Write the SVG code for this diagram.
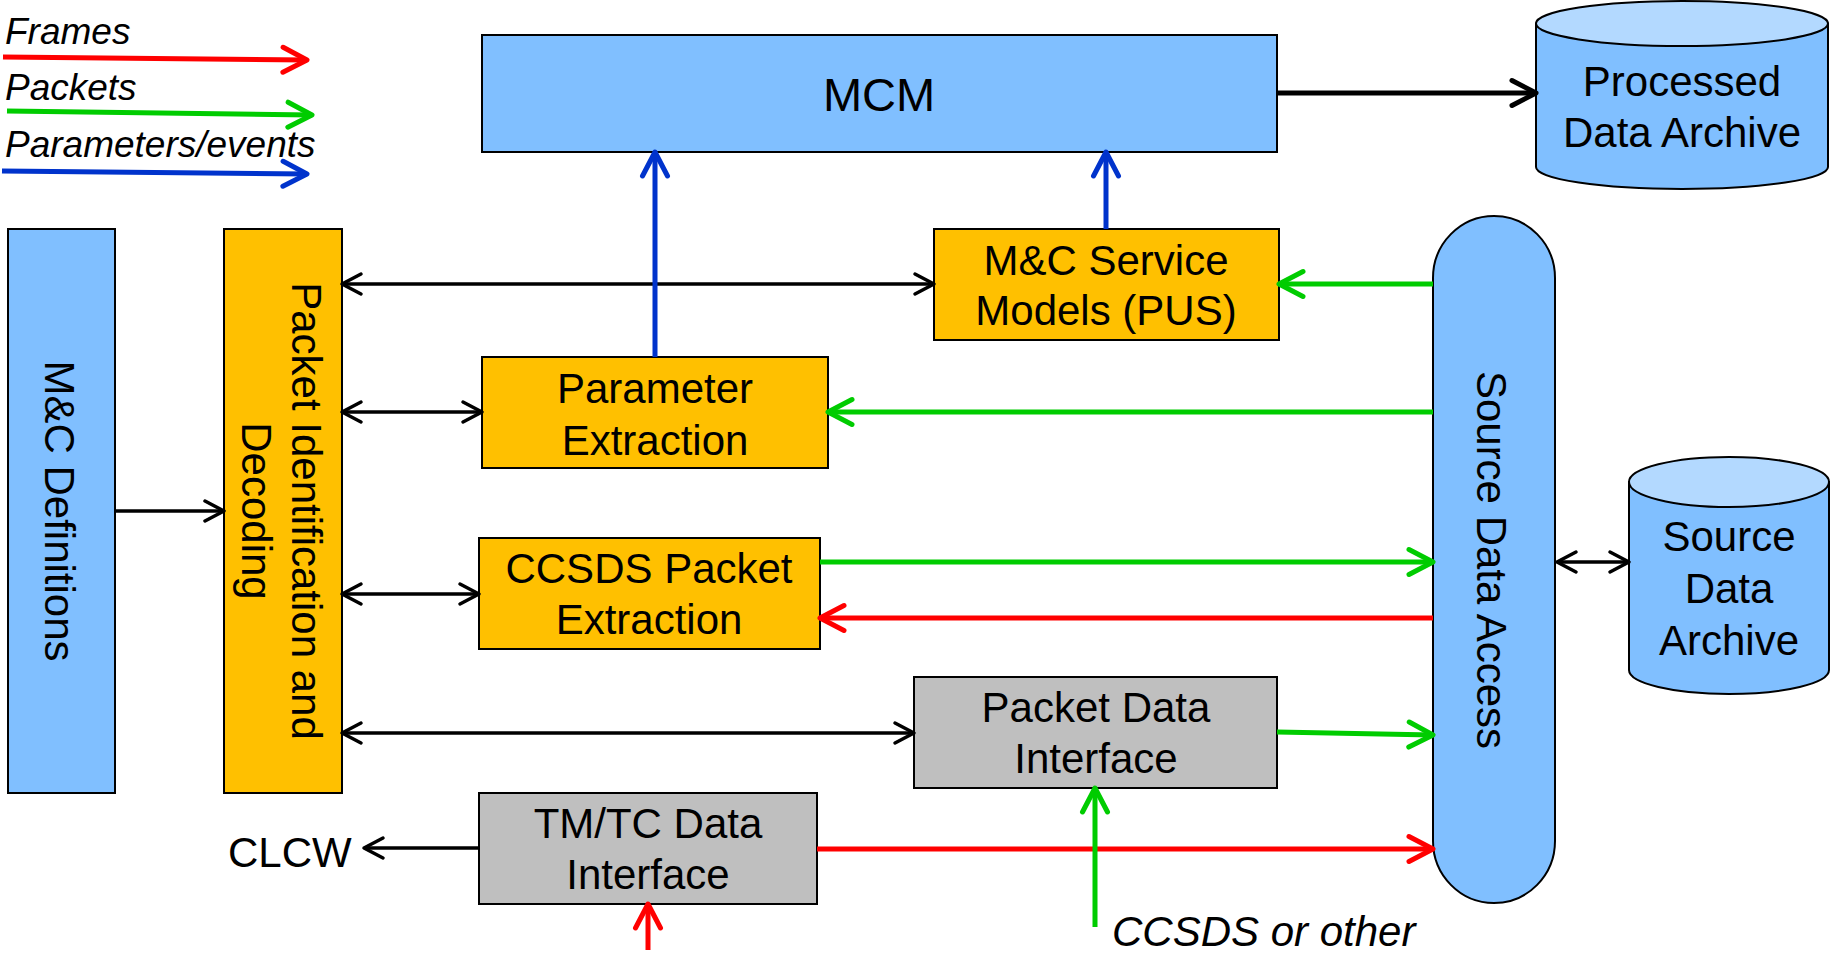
<svg xmlns="http://www.w3.org/2000/svg" width="1833" height="954" viewBox="0 0 1833 954">
  <style>
    .lbl { font-family: "Liberation Sans", Arial, sans-serif; font-size: 42px; fill: #000; }
    .it { font-style: italic; }
    .leg { font-size: 37px; }
    .mid { text-anchor: middle; }
    .box { stroke: #000; stroke-width: 2; }
    .blue { fill: #80BFFF; }
    .gold { fill: #FFC000; }
    .grey { fill: #BFBFBF; }
    .top { fill: #B3D9FF; }
    .ln { fill: none; }
    .k { stroke: #000; stroke-width: 3.5; }
    .kb { stroke: #000; stroke-width: 5; }
    .r { stroke: #FF0000; stroke-width: 5; }
    .g { stroke: #00CC00; stroke-width: 5; }
    .b { stroke: #0033CC; stroke-width: 5; }
  </style>
  <defs>
    <marker id="ah-k" markerUnits="userSpaceOnUse" viewBox="-30 -20 40 40" markerWidth="40" markerHeight="40" refX="0" refY="0" orient="auto-start-reverse">
      <path d="M-19,-10 L0,0 L-19,10" fill="none" stroke="#000" stroke-width="3.5" stroke-linecap="round" stroke-linejoin="round"/>
    </marker>
    <marker id="ah-kb" markerUnits="userSpaceOnUse" viewBox="-30 -20 40 40" markerWidth="40" markerHeight="40" refX="0" refY="0" orient="auto-start-reverse">
      <path d="M-24,-12.5 L0,0 L-24,12.5" fill="none" stroke="#000" stroke-width="5" stroke-linecap="round" stroke-linejoin="round"/>
    </marker>
    <marker id="ah-r" markerUnits="userSpaceOnUse" viewBox="-30 -20 40 40" markerWidth="40" markerHeight="40" refX="0" refY="0" orient="auto-start-reverse">
      <path d="M-24,-12.5 L0,0 L-24,12.5" fill="none" stroke="#FF0000" stroke-width="5" stroke-linecap="round" stroke-linejoin="round"/>
    </marker>
    <marker id="ah-g" markerUnits="userSpaceOnUse" viewBox="-30 -20 40 40" markerWidth="40" markerHeight="40" refX="0" refY="0" orient="auto-start-reverse">
      <path d="M-24,-12.5 L0,0 L-24,12.5" fill="none" stroke="#00CC00" stroke-width="5" stroke-linecap="round" stroke-linejoin="round"/>
    </marker>
    <marker id="ah-b" markerUnits="userSpaceOnUse" viewBox="-30 -20 40 40" markerWidth="40" markerHeight="40" refX="0" refY="0" orient="auto-start-reverse">
      <path d="M-24,-12.5 L0,0 L-24,12.5" fill="none" stroke="#0033CC" stroke-width="5" stroke-linecap="round" stroke-linejoin="round"/>
    </marker>
  </defs>

  <rect width="1833" height="954" fill="#fff"/>

  <!-- legend -->
  <g id="legend">
    <text class="lbl it leg" x="5" y="44">Frames</text>
    <line class="ln r" x1="3" y1="57" x2="307" y2="60" marker-end="url(#ah-r)"/>
    <text class="lbl it leg" x="5" y="100">Packets</text>
    <line class="ln g" x1="7" y1="111" x2="312" y2="115" marker-end="url(#ah-g)"/>
    <text class="lbl it leg" x="5" y="157">Parameters/events</text>
    <line class="ln b" x1="2" y1="171" x2="307" y2="174" marker-end="url(#ah-b)"/>
  </g>

  <!-- nodes -->
  <g id="mcm">
    <rect class="box blue" x="482" y="35" width="795" height="117"/>
    <text class="lbl mid" x="879" y="111" style="font-size:47px">MCM</text>
  </g>

  <g id="processed-archive">
    <path class="box blue" d="M1536,23.5 V167 A146,22 0 0 0 1828,167 V23.5 Z"/>
    <ellipse class="box top" cx="1682" cy="23.5" rx="146" ry="22.5"/>
    <text class="lbl mid" x="1682" y="96">Processed</text>
    <text class="lbl mid" x="1682" y="147">Data Archive</text>
  </g>

  <g id="mc-definitions">
    <rect class="box blue" x="8" y="229" width="107" height="564"/>
    <text class="lbl mid" transform="translate(45,511) rotate(90)">M&amp;C Definitions</text>
  </g>

  <g id="packet-id">
    <rect class="box gold" x="224" y="229" width="118" height="564"/>
    <text class="lbl mid" transform="translate(292,511) rotate(90)">Packet Identification and</text>
    <text class="lbl mid" transform="translate(242,511) rotate(90)">Decoding</text>
  </g>

  <g id="service-models">
    <rect class="box gold" x="934" y="229" width="345" height="111"/>
    <text class="lbl mid" x="1106" y="275">M&amp;C Service</text>
    <text class="lbl mid" x="1106" y="325">Models (PUS)</text>
  </g>

  <g id="parameter-extraction">
    <rect class="box gold" x="482" y="357" width="346" height="111"/>
    <text class="lbl mid" x="655" y="403">Parameter</text>
    <text class="lbl mid" x="655" y="455">Extraction</text>
  </g>

  <g id="packet-extraction">
    <rect class="box gold" x="479" y="538" width="341" height="111"/>
    <text class="lbl mid" x="649" y="583">CCSDS Packet</text>
    <text class="lbl mid" x="649" y="634">Extraction</text>
  </g>

  <g id="packet-data-interface">
    <rect class="box grey" x="914" y="677" width="363" height="111"/>
    <text class="lbl mid" x="1096" y="722">Packet Data</text>
    <text class="lbl mid" x="1096" y="773">Interface</text>
  </g>

  <g id="tmtc-interface">
    <rect class="box grey" x="479" y="793" width="338" height="111"/>
    <text class="lbl mid" x="648" y="838">TM/TC Data</text>
    <text class="lbl mid" x="648" y="889">Interface</text>
  </g>

  <g id="source-data-access">
    <rect class="box blue" x="1433" y="216" width="122" height="687" rx="61" ry="62"/>
    <text class="lbl mid" transform="translate(1477,560) rotate(90)">Source Data Access</text>
  </g>

  <g id="source-archive">
    <path class="box blue" d="M1629,482 V670 A100,24 0 0 0 1829,670 V482 Z"/>
    <ellipse class="box top" cx="1729" cy="482" rx="100" ry="25"/>
    <text class="lbl mid" x="1729" y="551">Source</text>
    <text class="lbl mid" x="1729" y="603">Data</text>
    <text class="lbl mid" x="1729" y="655">Archive</text>
  </g>

  <g id="clcw">
    <text class="lbl" x="228" y="867">CLCW</text>
  </g>

  <g id="ccsds-input">
    <text class="lbl it" x="1112" y="946">CCSDS or other</text>
  </g>

  <!-- connectors -->
  <g id="connectors">
    <!-- black -->
    <line class="ln kb" x1="1277" y1="93" x2="1536" y2="93" marker-end="url(#ah-kb)"/>
    <line class="ln k" x1="115" y1="511" x2="224" y2="511" marker-end="url(#ah-k)"/>
    <line class="ln k" x1="342" y1="284" x2="934" y2="284" marker-start="url(#ah-k)" marker-end="url(#ah-k)"/>
    <line class="ln k" x1="342" y1="412" x2="482" y2="412" marker-start="url(#ah-k)" marker-end="url(#ah-k)"/>
    <line class="ln k" x1="342" y1="594" x2="479" y2="594" marker-start="url(#ah-k)" marker-end="url(#ah-k)"/>
    <line class="ln k" x1="342" y1="733" x2="914" y2="733" marker-start="url(#ah-k)" marker-end="url(#ah-k)"/>
    <line class="ln k" x1="479" y1="848" x2="364" y2="848" marker-end="url(#ah-k)"/>
    <line class="ln k" x1="1557" y1="562" x2="1629" y2="562" marker-start="url(#ah-k)" marker-end="url(#ah-k)"/>
    <!-- parameters/events -->
    <line class="ln b" x1="655" y1="357" x2="655" y2="152" marker-end="url(#ah-b)"/>
    <line class="ln b" x1="1106" y1="229" x2="1106" y2="152" marker-end="url(#ah-b)"/>
    <!-- frames -->
    <line class="ln r" x1="1433" y1="618" x2="820" y2="618" marker-end="url(#ah-r)"/>
    <line class="ln r" x1="817" y1="849" x2="1433" y2="849" marker-end="url(#ah-r)"/>
    <line class="ln r" x1="648" y1="950" x2="648" y2="904" marker-end="url(#ah-r)"/>
    <!-- packets -->
    <line class="ln g" x1="1433" y1="284" x2="1279" y2="284" marker-end="url(#ah-g)"/>
    <line class="ln g" x1="1433" y1="412" x2="828" y2="412" marker-end="url(#ah-g)"/>
    <line class="ln g" x1="820" y1="562" x2="1433" y2="562" marker-end="url(#ah-g)"/>
    <line class="ln g" x1="1277" y1="732" x2="1433" y2="735" marker-end="url(#ah-g)"/>
    <line class="ln g" x1="1095" y1="927" x2="1095" y2="788" marker-end="url(#ah-g)"/>
  </g>
</svg>
